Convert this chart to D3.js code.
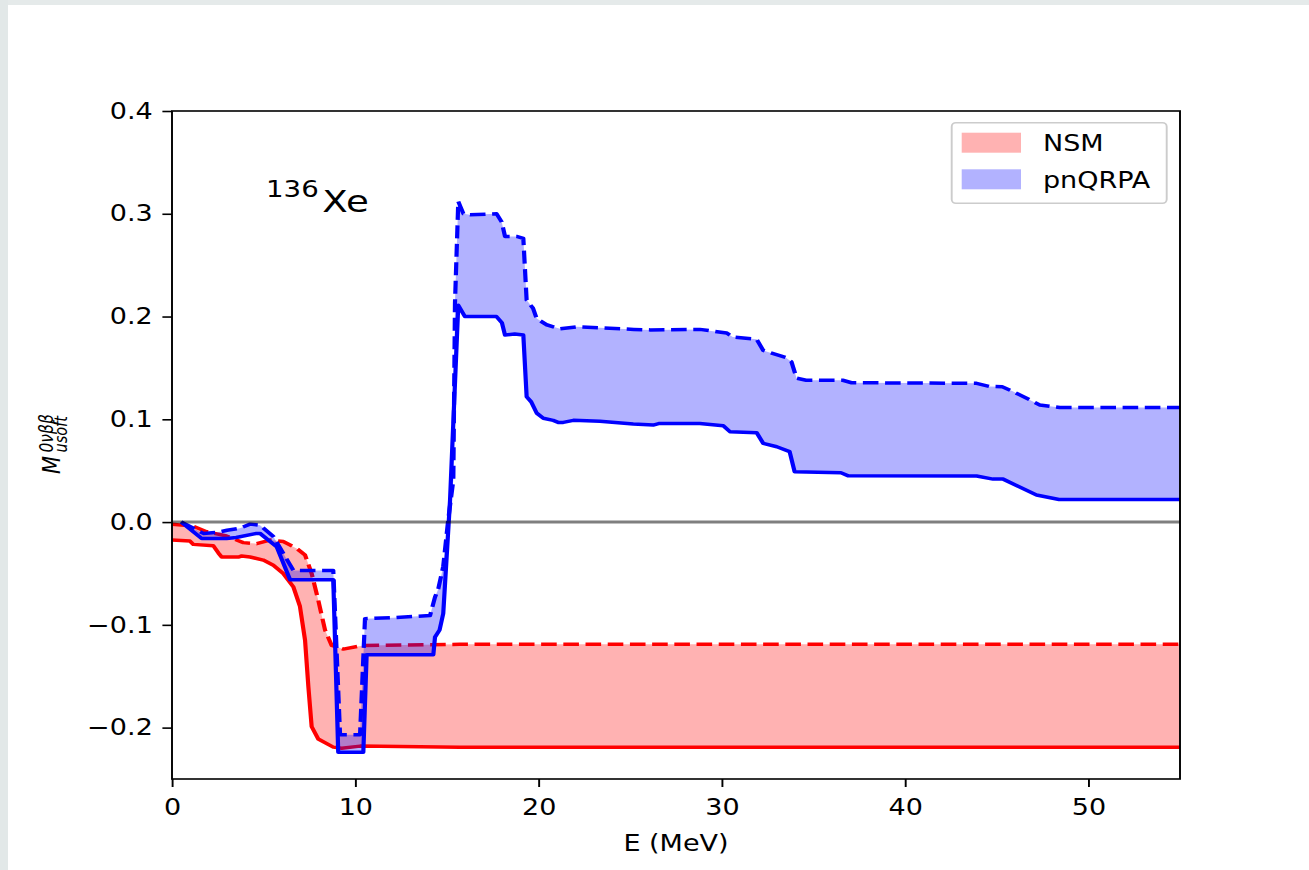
<!DOCTYPE html>
<html>
<head>
<meta charset="utf-8">
<script src="https://cdn.jsdelivr.net/npm/d3@7"></script>
<style>
  html, body { margin: 0; padding: 0; background: #fff; }
  svg { display: block; }
  text { font-family: "DejaVu Sans", sans-serif; }
</style>
</head>
<body>
<script>
// Energy grid (MeV) and cumulative matrix element for each curve
const nsmLowE  = [0, 0.98, 1.16, 2.25, 2.53, 2.71, 3.62, 3.8, 4.26, 4.98, 5.53, 6.07, 6.62, 6.98, 7.26, 7.44, 7.62, 7.98, 8.8, 9.26, 10.26, 15.7, 30, 55];
const nsmLowM  = [-0.0175, -0.0185, -0.0217, -0.023, -0.030, -0.034, -0.034, -0.033, -0.034, -0.037, -0.042, -0.050, -0.063, -0.082, -0.115, -0.160, -0.199, -0.211, -0.219, -0.220, -0.218, -0.219, -0.219, -0.219];

const nsmHighE = [0, 1.16, 1.89, 2.98, 3.89, 4.62, 5.35, 6.07, 6.8, 7.26, 7.62, 7.98, 8.35, 8.71, 9.35, 10.44, 15.7, 55];
const nsmHighM = [-0.002, -0.004, -0.0094, -0.0136, -0.020, -0.021, -0.0175, -0.019, -0.0256, -0.032, -0.050, -0.076, -0.105, -0.120, -0.1236, -0.120, -0.119, -0.119];

const qrpaLowE = [0.5, 1.62, 2.98, 3.5, 4.62, 4.8, 5.71, 6.44, 8.8, 9.07, 10.44, 10.62, 14.26, 14.35, 14.6, 14.8, 15.17, 15.62, 15.98, 16.6, 17.7, 18.0, 18.17, 18.7, 19.17, 19.35, 19.6, 19.9, 20.26, 20.8, 21.07, 21.35, 21.9, 23.35, 25.17, 26.26, 26.6, 28.8, 30.08, 30.44, 31.9, 32.26, 33.0, 33.7, 33.97, 36.5, 36.9, 43.9, 44.8, 45.35, 47.17, 48.4, 55];
const qrpaLowM = [0.0, -0.016, -0.016, -0.015, -0.011, -0.011, -0.024, -0.056, -0.056, -0.224, -0.224, -0.129, -0.129, -0.112, -0.105, -0.089, 0.021, 0.211, 0.2, 0.2, 0.2, 0.194, 0.182, 0.183, 0.182, 0.122, 0.117, 0.106, 0.101, 0.099, 0.097, 0.097, 0.099, 0.098, 0.0954, 0.0944, 0.096, 0.096, 0.0937, 0.088, 0.087, 0.0766, 0.0733, 0.0685, 0.049, 0.048, 0.045, 0.0448, 0.0418, 0.0418, 0.0263, 0.022, 0.022];

const qrpaHighE = [0.5, 1.71, 2.5, 3.0, 3.71, 4.26, 4.8, 5.53, 6.62, 8.8, 9.17, 10.26, 10.53, 12.07, 14.08, 14.35, 14.53, 14.8, 15.07, 15.35, 15.44, 15.62, 15.9, 16.26, 17.71, 17.99, 18.17, 18.8, 19.17, 19.35, 19.7, 19.9, 20.44, 21.17, 22.08, 23.35, 25.2, 26.1, 28.8, 30.26, 30.6, 31.9, 32.26, 33.5, 33.8, 34.08, 34.6, 36.6, 37.08, 43.9, 44.6, 45.3, 45.9, 47.35, 48.44, 55];
const qrpaHighM = [0.0, -0.011, -0.010, -0.008, -0.006, -0.002, -0.003, -0.014, -0.047, -0.047, -0.207, -0.207, -0.094, -0.093, -0.091, -0.073, -0.065, -0.043, 0.002, 0.041, 0.213, 0.312, 0.3, 0.299, 0.3, 0.292, 0.278, 0.278, 0.276, 0.216, 0.208, 0.198, 0.192, 0.188, 0.19, 0.189, 0.1875, 0.187, 0.1875, 0.184, 0.18, 0.178, 0.167, 0.16, 0.156, 0.14, 0.138, 0.138, 0.1356, 0.135, 0.132, 0.1317, 0.127, 0.114, 0.1115, 0.1115];

const xTicks = [0, 10, 20, 30, 40, 50];
const yTicks = [-0.2, -0.1, 0.0, 0.1, 0.2, 0.3, 0.4];
const seriesNames = ["NSM", "pnQRPA"];
const seriesColors = ["red", "blue"];

const W = 1309, H = 870;
const SX = 1.2; // horizontal stretch of the figure canvas

const svg = d3.select("body").append("svg")
  .attr("width", W).attr("height", H);

svg.append("rect").attr("width", W).attr("height", H).attr("fill", "#fff");
// window frame strips
svg.append("rect").attr("x", 0).attr("y", 0).attr("width", W).attr("height", 5).attr("fill", "#e5eaea");
svg.append("rect").attr("x", 0).attr("y", 0).attr("width", 8).attr("height", H).attr("fill", "#e2e8e8");

const fig = svg.append("g").attr("transform", `scale(${SX},1)`);

const x = d3.scaleLinear().domain([0, 55]).range([172 / SX, 1180 / SX]);
const y = d3.scaleLinear().domain([-0.25, 0.4]).range([779, 111]);

const zip = (a, b) => a.map((v, i) => [v, b[i]]);
const line = d3.line().x(d => x(d[0])).y(d => y(d[1]));

fig.append("clipPath").attr("id", "plot-clip")
  .append("rect")
  .attr("x", x(0)).attr("y", y(0.4))
  .attr("width", x(55) - x(0)).attr("height", y(-0.25) - y(0.4));

const plot = fig.append("g").attr("clip-path", "url(#plot-clip)");

function band(lowE, lowM, highE, highM, color) {
  const low = zip(lowE, lowM);
  const high = zip(highE, highM);
  const poly = low.concat(high.slice().reverse());
  plot.append("path")
    .attr("d", line(poly) + "Z")
    .attr("fill", color).attr("fill-opacity", 0.3).attr("stroke", "none");
  plot.append("path")
    .attr("d", line(low))
    .attr("fill", "none").attr("stroke", color).attr("stroke-width", 3.5)
    .attr("stroke-linejoin", "round");
  plot.append("path")
    .attr("d", line(high))
    .attr("fill", "none").attr("stroke", color).attr("stroke-width", 3.5)
    .attr("stroke-linejoin", "round").attr("stroke-dasharray", "13,5.5");
}

band(nsmLowE, nsmLowM, nsmHighE, nsmHighM, seriesColors[0]);
band(qrpaLowE, qrpaLowM, qrpaHighE, qrpaHighM, seriesColors[1]);

// zero reference line
plot.append("line")
  .attr("x1", x(0)).attr("x2", x(55))
  .attr("y1", y(0)).attr("y2", y(0))
  .attr("stroke", "black").attr("stroke-opacity", 0.5).attr("stroke-width", 3);

// axes
const fontSize = 22.5;
const xAxis = fig.append("g").attr("transform", `translate(0,${y(-0.25)})`)
  .call(d3.axisBottom(x).tickValues(xTicks).tickFormat(d3.format("d")).tickSize(8).tickPadding(12));
const yAxis = fig.append("g").attr("transform", `translate(${x(0)},0)`)
  .call(d3.axisLeft(y).tickValues(yTicks).tickFormat(d3.format(".1f")).tickSize(8).tickPadding(8));

[xAxis, yAxis].forEach(a => {
  a.select(".domain").remove();
  a.selectAll(".tick line").attr("stroke", "black").attr("stroke-width", 1.6);
  a.selectAll(".tick text").attr("fill", "black")
    .style("font-family", "'DejaVu Sans', sans-serif").style("font-size", fontSize + "px");
});

fig.append("rect")
  .attr("x", x(0)).attr("y", y(0.4))
  .attr("width", x(55) - x(0)).attr("height", y(-0.25) - y(0.4))
  .attr("fill", "none").attr("stroke", "black").attr("stroke-width", 1.6);

// axis titles
fig.append("text")
  .attr("x", (x(0) + x(55)) / 2).attr("y", 851)
  .attr("text-anchor", "middle")
  .style("font-size", fontSize + "px")
  .text("E (MeV)");

const yl = svg.append("g").attr("transform", `translate(55,442.5) scale(${SX},1) rotate(-90)`);
yl.append("text").attr("x", -31.5).attr("y", 4.2)
  .style("font-size", "21px").style("font-style", "italic").text("M");
yl.append("text").attr("x", -10).attr("y", 9.8)
  .style("font-size", "14.5px").style("font-style", "italic").text("usoft");
yl.append("text").attr("x", -10).attr("y", -1.8)
  .style("font-size", "15.5px").style("font-style", "italic").text("0νββ");

// isotope label
fig.append("text").attr("x", 221.7).attr("y", 196.7)
  .style("font-size", "23px").text("136");
fig.append("text").attr("x", 268.5).attr("y", 212.5)
  .style("font-size", "31px").text("Xe");

// legend
const lg = fig.append("g");
lg.append("rect")
  .attr("x", 951.7 / SX).attr("y", 122.7)
  .attr("width", (1166.7 - 951.7) / SX).attr("height", 80.6)
  .attr("rx", 3.5).attr("ry", 4)
  .attr("fill", "white").attr("fill-opacity", 0.8)
  .attr("stroke", "#cccccc").attr("stroke-width", 1.6);
seriesNames.forEach((name, i) => {
  const top = 132.7 + i * 36.6;
  lg.append("rect")
    .attr("x", 961.7 / SX).attr("y", top)
    .attr("width", (1021 - 961.7) / SX).attr("height", 20)
    .attr("fill", seriesColors[i]).attr("fill-opacity", 0.3);
  lg.append("text")
    .attr("x", 1043 / SX).attr("y", top + 18.3)
    .style("font-size", fontSize + "px")
    .text(name);
});
</script>
</body>
</html>
